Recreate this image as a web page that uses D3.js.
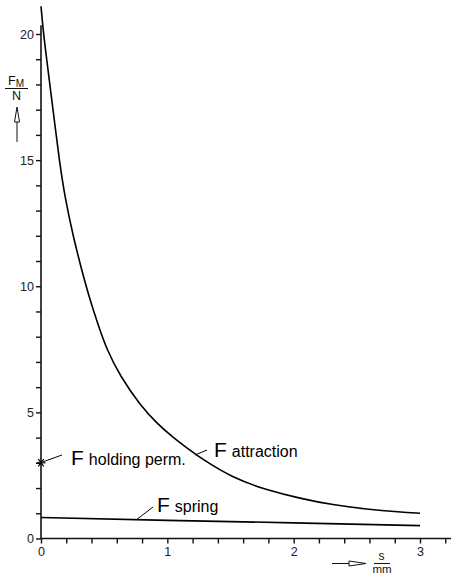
<!DOCTYPE html>
<html>
<head>
<meta charset="utf-8">
<script src="https://cdn.jsdelivr.net/npm/d3@7"></script>
<style>
html,body{margin:0;padding:0;background:#fff;}
svg{display:block;}
text{font-family:"Liberation Sans",Arial,sans-serif;}
</style>
</head>
<body>
<svg id="chart" width="451" height="575"></svg>
<script>
// ---- data ----
const attractionS = [0, 0.02, 0.05, 0.08, 0.11, 0.145, 0.19, 0.256, 0.322, 0.388, 0.454, 0.52, 0.625, 0.784, 0.916, 1.047, 1.18, 1.26, 1.52, 1.79, 2.05, 2.31, 2.58, 2.84, 3.0];
const attractionF = [21.1, 20.0, 18.8, 17.6, 16.4, 15.0, 13.5, 11.95, 10.65, 9.45, 8.45, 7.5, 6.45, 5.29, 4.57, 4.0, 3.5, 3.2, 2.39, 1.92, 1.59, 1.33, 1.16, 1.05, 1.0];
const springS = [0, 1, 2, 3];
const springF = [0.83, 0.72, 0.62, 0.51];
const holdingS = [0];
const holdingF = [3.0];
const xTicks = [0,0.2,0.4,0.6,0.8,1,1.2,1.4,1.6,1.8,2,2.2,2.4,2.6,2.8,3,3.2];
const xTickLabels = ["0","1","2","3"];
const yTicks = d3.range(0, 21, 1);
const yTickLabels = ["0","5","10","15","20"];

const svg = d3.select("#chart");
const x = d3.scaleLinear().domain([0, 3]).range([41, 420]);
const y = d3.scaleLinear().domain([0, 20]).range([538.5, 34]);

// axes
const xAxis = d3.axisBottom(x).tickValues(xTicks).tickSize(5).tickSizeOuter(0)
  .tickFormat(d => xTickLabels.includes(String(+d.toFixed(3))) ? String(+d.toFixed(3)) : "");
const yAxis = d3.axisLeft(y).tickValues(yTicks).tickSize(5).tickSizeOuter(0)
  .tickFormat(d => yTickLabels.includes(String(d)) ? String(d) : "");

const gx = svg.append("g").attr("transform", `translate(0,${y(0)})`).call(xAxis);
gx.select(".domain").attr("d", `M${x(0)},0H451`);
const gy = svg.append("g").attr("transform", `translate(${x(0)},0)`).call(yAxis);
gy.select(".domain").attr("d", `M0,${y(0)}V${y(20.35)}`);
[gx, gy].forEach(g => {
  g.select(".domain").attr("stroke", "#111").attr("stroke-width", 1.6);
  g.selectAll(".tick line").attr("stroke", "#111").attr("stroke-width", 1.4);
  g.selectAll(".tick text").attr("fill", "#222").style("font-size", "12.5px")
    .style("font-family", "'Liberation Sans',Arial,sans-serif");
});
gx.selectAll(".tick text").attr("dy", "0.71em").attr("y", 9);
gy.selectAll(".tick text").attr("x", -7);

// curves
const smooth = d3.line().x(d => x(d[0])).y(d => y(d[1])).curve(d3.curveBasis);
const straight = d3.line().x(d => x(d[0])).y(d => y(d[1])).curve(d3.curveMonotoneX);
svg.append("path").datum(attractionS.map((s, i) => [s, attractionF[i]]))
  .attr("d", smooth).attr("fill", "none").attr("stroke", "#000").attr("stroke-width", 1.6);
svg.append("path").datum(springS.map((s, i) => [s, springF[i]]))
  .attr("d", straight).attr("fill", "none").attr("stroke", "#000").attr("stroke-width", 1.6);

// holding marker (asterisk)
holdingS.forEach((s, i) => {
  const cx = x(s), cy = y(holdingF[i]), r = 4.5;
  const g = svg.append("g").attr("stroke", "#000").attr("stroke-width", 1.2);
  g.append("line").attr("x1", cx - r).attr("x2", cx + r).attr("y1", cy).attr("y2", cy);
  g.append("line").attr("x1", cx - r*0.6).attr("x2", cx + r*0.6).attr("y1", cy - r*0.8).attr("y2", cy + r*0.8);
  g.append("line").attr("x1", cx - r*0.6).attr("x2", cx + r*0.6).attr("y1", cy + r*0.8).attr("y2", cy - r*0.8);
});

// labels with leader lines
function label(x1, y1, x2, y2, tx, ty, sub) {
  svg.append("line").attr("x1", x1).attr("y1", y1).attr("x2", x2).attr("y2", y2)
    .attr("stroke", "#000").attr("stroke-width", 1);
  const t = svg.append("text").attr("x", tx).attr("y", ty).attr("fill", "#000");
  t.append("tspan").style("font-size", "21px").text("F");
  t.append("tspan").attr("dx", 5).style("font-size", "16px").text(sub);
}
label(x(0) + 2, y(3.0) - 1, 62, 455, 71, 465, "holding perm.");
label(x(0.76), y(0.76), 153, 507, 157, 512, "spring");
label(195, 455, 207, 450, 214, 457, "attraction");

// y axis label F_M / N
const yl = svg.append("text").attr("x", 8).attr("y", 85).attr("fill", "#111").style("font-size", "12.5px");
yl.append("tspan").text("F");
yl.append("tspan").attr("dy", 2).style("font-size", "10px").text("M");
svg.append("line").attr("x1", 5).attr("x2", 28).attr("y1", 88.5).attr("y2", 88.5).attr("stroke", "#111").attr("stroke-width", 1);
svg.append("text").attr("x", 16.5).attr("y", 100).attr("text-anchor", "middle").attr("fill", "#111").style("font-size", "12.5px").text("N");
// up arrow
svg.append("line").attr("x1", 17).attr("x2", 17).attr("y1", 142).attr("y2", 120).attr("stroke", "#111").attr("stroke-width", 1);
svg.append("path").attr("d", "M17,107 L19.5,122 L14.5,122 Z").attr("fill", "#fff").attr("stroke", "#111").attr("stroke-width", 1);

// x axis label s / mm
svg.append("line").attr("x1", 332).attr("x2", 350).attr("y1", 563.5).attr("y2", 563.5).attr("stroke", "#111").attr("stroke-width", 1);
svg.append("path").attr("d", "M366,563.5 L349,561 L349,566 Z").attr("fill", "#fff").attr("stroke", "#111").attr("stroke-width", 1);
svg.append("text").attr("x", 381.5).attr("y", 560).attr("text-anchor", "middle").attr("fill", "#111").style("font-size", "12px").text("s");
svg.append("line").attr("x1", 374).attr("x2", 390).attr("y1", 563.5).attr("y2", 563.5).attr("stroke", "#111").attr("stroke-width", 1);
svg.append("text").attr("x", 382).attr("y", 572.5).attr("text-anchor", "middle").attr("fill", "#111").style("font-size", "11.5px").text("mm");
</script>
</body>
</html>
